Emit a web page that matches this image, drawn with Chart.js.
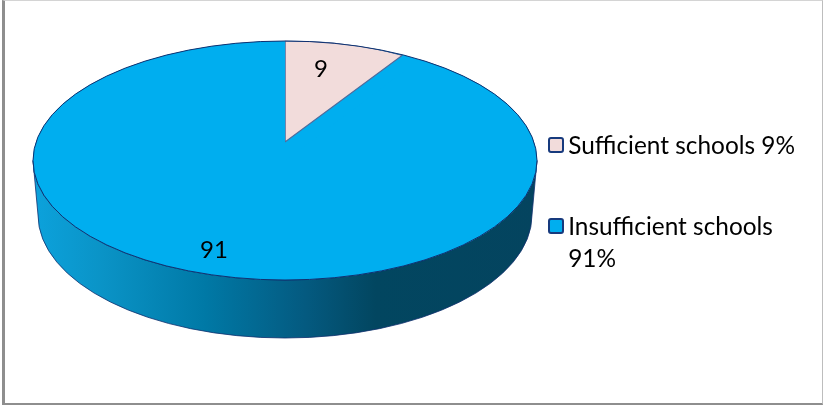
<!DOCTYPE html>
<html>
<head>
<meta charset="utf-8">
<style>
html,body{margin:0;padding:0;background:#fff;}
#wrap{position:relative;width:823px;height:405px;overflow:hidden;}
#frame{position:absolute;left:2px;top:0;width:821px;height:405px;border-left:3px solid #8e8e8e;border-bottom:2px solid #8e8e8e;border-top:1px solid #d4d4d4;border-right:1px solid #bdbdbd;box-sizing:border-box;pointer-events:none;}
</style>
<script src="https://cdn.jsdelivr.net/npm/chart.js@4/dist/chart.umd.min.js"></script>
</head>
<body>
<div id="wrap"><canvas id="c" width="823" height="405"></canvas><div id="frame"></div></div>
<script>
const categories = ['Sufficient schools', 'Insufficient schools'];
const values = [9, 91];
const legendLabels = [['Sufficient schools 9%'], ['Insufficient schools', '91%']];
const sliceColors = ['#F2DCDB', '#00AEEF'];

const FONT = 'Lato, Carlito, Calibri, sans-serif';
const NAVY = '#10306f';
const top3d = {cx: 285, cy: 160.5, rx: 252, ry: 119.5};
const base3d = {cx: 285, cy: 215, rx: 247, ry: 123};
// Perspective of the tilted disc: the small front slice is seen with its apex raised.
const sliceView = [
  {cx: 285, cy: 142, sx: 0.867, sy: 0.4, shear: -0.013},
  {cx: 285, cy: 160.5, sx: 1, sy: 119.5 / 252, shear: 0}
];
const valueAnchors = [[321, 69], [214, 250]];
const legendSwatchY = [138, 219];

const pie3d = {
  id: 'pie3d',
  afterLayout(chart) {
    const l = chart.legend;
    const w = l.width, h = l.height;
    l.left = 490; l.right = l.left + w;
    l.top = 77; l.bottom = l.top + h;
  },
  beforeDatasetsDraw(chart) {
    const ctx = chart.ctx;
    const meta = chart.getDatasetMeta(0);
    meta.data.forEach((arc, i) => {
      if (arc._wrapped) return;
      arc._wrapped = true;
      const draw = arc.draw.bind(arc);
      arc.draw = (c, area) => {
        const v = sliceView[i];
        const R = arc.outerRadius;
        c.save();
        c.transform(v.sx * top3d.rx / R, v.shear, 0, v.sy * top3d.rx / R, v.cx, v.cy);
        c.translate(-arc.x, -arc.y);
        draw(c, area);
        c.restore();
      };
    });
    // side wall
    const g = ctx.createLinearGradient(top3d.cx - top3d.rx, 0, top3d.cx + top3d.rx, 0);
    g.addColorStop(0, '#0ca2dc');
    g.addColorStop(0.14, '#0a93c6');
    g.addColorStop(0.34, '#0079a6');
    g.addColorStop(0.54, '#045a80');
    g.addColorStop(0.68, '#024660');
    g.addColorStop(1, '#04445f');
    ctx.save();
    ctx.beginPath();
    ctx.ellipse(top3d.cx, top3d.cy, top3d.rx, top3d.ry, 0, 0, Math.PI);
    ctx.lineTo(base3d.cx - base3d.rx, base3d.cy);
    ctx.ellipse(base3d.cx, base3d.cy, base3d.rx, base3d.ry, 0, Math.PI, 0, true);
    ctx.closePath();
    ctx.fillStyle = g;
    ctx.fill();
    ctx.lineWidth = 0.8;
    ctx.strokeStyle = NAVY;
    ctx.stroke();
    // top disc
    ctx.beginPath();
    ctx.ellipse(top3d.cx, top3d.cy, top3d.rx, top3d.ry, 0, 0, Math.PI * 2);
    ctx.fillStyle = sliceColors[1];
    ctx.fill();
    ctx.restore();
  },
  afterDatasetsDraw(chart) {
    const ctx = chart.ctx;
    ctx.save();
    ctx.beginPath();
    ctx.ellipse(top3d.cx, top3d.cy, top3d.rx, top3d.ry, 0, 0, Math.PI * 2);
    ctx.lineWidth = 1;
    ctx.strokeStyle = NAVY;
    ctx.stroke();
    ctx.fillStyle = '#000';
    ctx.font = '24px ' + FONT;
    ctx.textAlign = 'center';
    ctx.textBaseline = 'middle';
    values.forEach((v, i) => ctx.fillText(String(v), valueAnchors[i][0], valueAnchors[i][1]));
    ctx.restore();
  },
  afterDraw(chart) {
    // Legend swatches sit closer to their text than the built-in box allows.
    const ctx = chart.ctx;
    ctx.save();
    sliceColors.forEach((col, i) => {
      ctx.beginPath();
      ctx.roundRect(549, legendSwatchY[i], 14, 14, 2);
      ctx.fillStyle = col;
      ctx.fill();
      ctx.lineWidth = 2;
      ctx.strokeStyle = '#173a7d';
      ctx.stroke();
    });
    ctx.restore();
  }
};

new Chart(document.getElementById('c'), {
  type: 'pie',
  data: {
    labels: categories,
    datasets: [{
      data: values,
      backgroundColor: sliceColors,
      borderColor: ['#4f6a9c', 'rgba(0,0,0,0)'],
      borderWidth: [1.4, 0],
      clip: false
    }]
  },
  options: {
    responsive: false,
    animation: false,
    events: [],
    plugins: {
      tooltip: {enabled: false},
      legend: {
        display: true,
        position: 'right',
        align: 'start',
        labels: {
          boxWidth: 9,
          boxHeight: 9,
          padding: 57,
          color: '#000',
          font: {family: FONT, size: 24.4, lineHeight: 32 / 24.4},
          generateLabels: (chart) => legendLabels.map((text, i) => ({
            text: text.length > 1 ? text : text[0],
            fillStyle: 'rgba(0,0,0,0)',
            strokeStyle: 'rgba(0,0,0,0)',
            lineWidth: 0,
            hidden: false,
            index: i
          }))
        }
      }
    }
  },
  plugins: [pie3d]
});
</script>
</body>
</html>
